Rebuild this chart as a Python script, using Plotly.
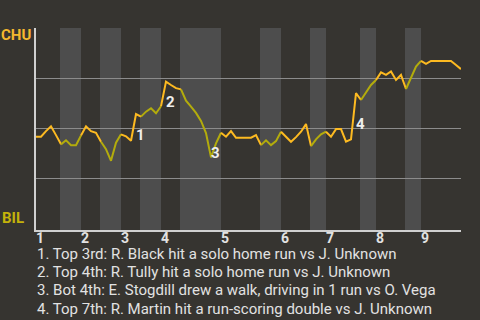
import plotly.graph_objects as go

# Chicago (CHU) win probability after each plate appearance
win_prob = [
    0.458, 0.458, 0.486, 0.510, 0.466, 0.420, 0.440, 0.416, 0.416, 0.464,
    0.510, 0.486, 0.478, 0.433, 0.396, 0.338, 0.428, 0.470, 0.460, 0.438,
    0.571, 0.558, 0.583, 0.600, 0.575, 0.610, 0.733, 0.716, 0.700, 0.694,
    0.638, 0.608, 0.577, 0.537, 0.476, 0.355, 0.425, 0.478, 0.458, 0.486,
    0.453, 0.453, 0.453, 0.453, 0.466, 0.416, 0.440, 0.416, 0.436, 0.483,
    0.458, 0.433, 0.456, 0.483, 0.521, 0.411, 0.445, 0.470, 0.483, 0.458,
    0.496, 0.496, 0.433, 0.445, 0.675, 0.641, 0.680, 0.716, 0.741, 0.779,
    0.766, 0.783, 0.741, 0.766, 0.696, 0.751, 0.808, 0.836, 0.821, 0.836,
    0.836, 0.836, 0.836, 0.836, 0.816, 0.795,
]

# plate-appearance index where each inning begins
inning_starts = [0, 9, 17, 25, 37, 49, 58, 68, 77]
inning_labels = ["1", "2", "3", "4", "5", "6", "7", "8", "9"]

# plate-appearance index where each bottom half begins
bottom_starts = [5, 13, 21, 29, 45, 55, 65, 74]

# key plays: index of the play and its description
key_plays = [20, 26, 35, 64]
key_texts = [
    "Top 3rd: R. Black hit a solo home run vs J. Unknown",
    "Top 4th: R. Tully hit a solo home run vs J. Unknown",
    "Bot 4th: E. Stogdill drew a walk, driving in 1 run vs O. Vega",
    "Top 7th: R. Martin hit a run-scoring double vs J. Unknown",
]

away_team, home_team = "CHU", "BIL"

BG = "#363430"
BAND = "#4d4d4d"
GOLD = "#FDBA21"
OLIVE = "#B3AC0C"
GRID = "#8c8c8c"
AXIS = "#d0d0d0"
TEXT = "#e2e2e2"
FONT = "Roboto"

n = len(win_prob)
xs = list(range(n))

fig = go.Figure()

# each bottom half runs until the next inning starts
bottom_ends = [min(s for s in inning_starts + [n - 1] if s > b) for b in bottom_starts]

# half-inning segments: top halves in gold, bottom halves in olive
cuts = []
prev = 0
for b, e in zip(bottom_starts, bottom_ends):
    cuts.append((prev, b, GOLD))
    cuts.append((b, e, OLIVE))
    prev = e
cuts.append((prev, n - 1, GOLD))

for a, b, col in cuts:
    fig.add_trace(go.Scatter(
        x=xs[a:b + 1], y=win_prob[a:b + 1], mode="lines",
        line=dict(color=col, width=2), hoverinfo="skip", showlegend=False,
    ))

shapes = []
for b, e in zip(bottom_starts, bottom_ends):
    shapes.append(dict(
        type="rect", xref="x", yref="paper", x0=b - 0.2, x1=e, y0=0, y1=1,
        fillcolor=BAND, line=dict(width=0), layer="below",
    ))

annotations = []
# inning numbers under the axis, left-aligned at each inning's start
for s, lab in zip(inning_starts, inning_labels):
    annotations.append(dict(
        x=s, y=0, xref="x", yref="paper", text=lab, showarrow=False,
        xanchor="left", yanchor="top", xshift=-2, yshift=2,
        font=dict(family=FONT, size=14, color=TEXT, weight="bold"),
    ))

# numbered markers beside each key play
for k, idx in enumerate(key_plays, start=1):
    mid = (win_prob[idx - 1] + win_prob[idx]) / 2
    annotations.append(dict(
        x=idx, y=mid, xref="x", yref="y", text=str(k), showarrow=False,
        xanchor="left", yanchor="top", xshift=-2, yshift=3,
        font=dict(family=FONT, size=15, color="#eeeeee", weight="bold"),
    ))

# team labels at the top and bottom of the probability scale
annotations.append(dict(
    x=0, y=1, xref="paper", yref="y", text=away_team, showarrow=False,
    xanchor="right", yanchor="top", xshift=-3, yshift=4,
    font=dict(family=FONT, size=15, color="#F5B82E", weight="bold"),
))
annotations.append(dict(
    x=0, y=0, xref="paper", yref="y", text=home_team, showarrow=False,
    xanchor="right", yanchor="bottom", xshift=-10, yshift=0,
    font=dict(family=FONT, size=15, color="#C4B20A", weight="bold"),
))

# key play descriptions below the chart
for k, txt in enumerate(key_texts, start=1):
    annotations.append(dict(
        x=0, y=0, xref="paper", yref="paper", text=f"{k}. {txt}",
        showarrow=False, xanchor="left", yanchor="middle",
        xshift=-1, yshift=-(24 + 18.2 * (k - 1)),
        font=dict(family=FONT, size=15, color=TEXT),
    ))

fig.update_layout(
    width=480, height=320,
    margin=dict(l=36, r=19, t=28, b=90),
    paper_bgcolor=BG, plot_bgcolor=BG,
    shapes=shapes, annotations=annotations,
    xaxis=dict(
        range=[0, n - 1], showgrid=False, zeroline=False,
        showticklabels=False, ticks="", showline=True,
        linecolor=AXIS, linewidth=1.5, fixedrange=True,
    ),
    yaxis=dict(
        range=[-0.007, 1.0], tickvals=[0.25, 0.5, 0.75, 1.0],
        showgrid=True, gridcolor=GRID, gridwidth=1, zeroline=False,
        showticklabels=False, ticks="", showline=True,
        linecolor=AXIS, linewidth=1.5, fixedrange=True,
    ),
)

fig.write_html("out.html", config={"displayModeBar": False})
